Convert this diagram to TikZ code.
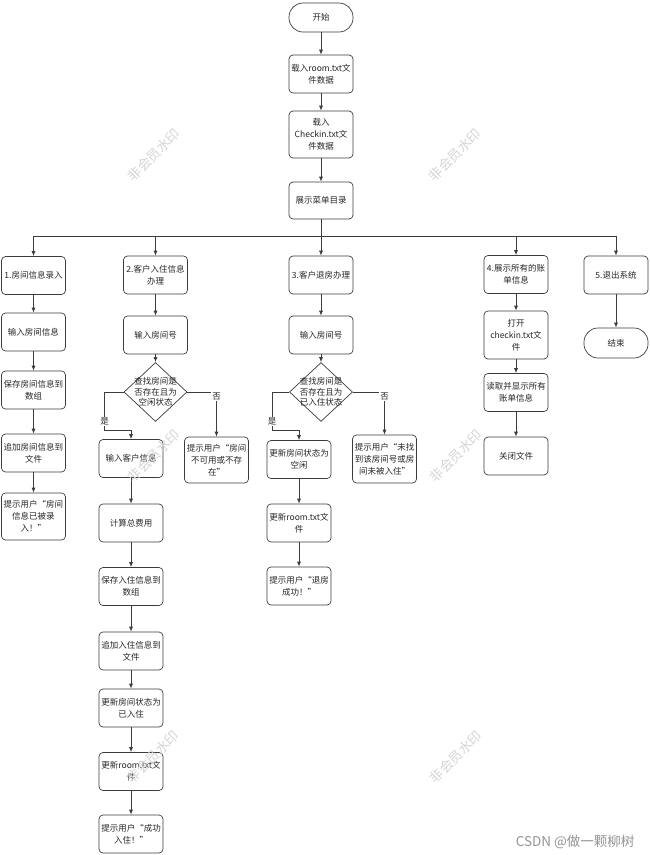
\documentclass[tikz,border=0pt]{standalone}
\usepackage{fontspec}
\newfontfamily\cjk{Noto Sans CJK SC}
\usetikzlibrary{shapes.geometric,arrows.meta,calc}
\definecolor{linegray}{HTML}{3C3C3C}
\definecolor{markgray}{HTML}{D4D4D4}

\begin{document}
\begin{tikzpicture}[x=1pt,y=-1pt,>={Latex[length=5pt,width=4pt]},
  every node/.style={font=\cjk\fontsize{8.5}{12}\selectfont,text=black!85},
  box/.style={draw=linegray,line width=0.7pt,rounded corners=4pt,align=center,
    minimum width=64pt,minimum height=38pt,inner sep=1pt},
  tallbox/.style={box,minimum height=47pt},
  ends/.style={box,rounded corners=14pt,minimum height=29pt},
  test/.style={diamond,draw=linegray,line width=0.7pt,align=center,
    minimum width=63pt,minimum height=59pt,inner sep=-6pt,
    font=\cjk\fontsize{8.5}{10.5}\selectfont},
  yn/.style={fill=white,inner sep=1pt},
  wmark/.style={rotate=45,text=markgray,font=\cjk\fontsize{13.5}{14}\selectfont},
  flow/.style={draw=linegray,line width=0.7pt}]
  \useasboundingbox (0,0) rectangle (650,855);

  % start and menu
  \node[ends] (start) at (321,17.5) {开始};
  \node[box] (load1) at (321,74) {载入room.txt文\\件数据};
  \node[tallbox] (load2) at (321,134.5) {载入\\Checkin.txt文\\件数据};
  \node[box,minimum height=37pt] (menu) at (321,200.5) {展示菜单目录};
  \coordinate (bus) at (321,236);

  % 1
  \node[box] (c1) at (33.5,275.5) {1.房间信息录入};
  \node[box] (c1a) at (33.5,332) {输入房间信息};
  \node[box] (c1b) at (33.5,390) {保存房间信息到\\数组};
  \node[box] (c1c) at (33.5,453) {追加房间信息到\\文件};
  \node[tallbox] (c1d) at (33.5,516.5) {提示用户“房间\\信息已被录\\入！”};

  % 2
  \node[box] (c2) at (155.5,275) {2.客户入住信息\\办理};
  \node[box] (c2a) at (155.5,335) {输入房间号};
  \node[test] (d2) at (155.5,392) {查找房间是\\否存在且为\\空闲状态};
  \node[box] (c2y1) at (131,458.5) {输入客户信息};
  \node[box,minimum height=46pt] (c2n) at (216.5,460) {提示用户“房间\\不可用或不存\\在”};
  \node[box] (c2y2) at (131,523) {计算总费用};
  \node[box] (c2y3) at (131,586.5) {保存入住信息到\\数组};
  \node[box] (c2y4) at (131,651) {追加入住信息到\\文件};
  \node[box] (c2y5) at (131,708) {更新房间状态为\\已入住};
  \node[box] (c2y6) at (131,771.5) {更新room.txt文\\件};
  \node[box] (c2y7) at (131,834) {提示用户“成功\\入住！”};

  % 3
  \node[box] (c3) at (321,275) {3.客户退房办理};
  \node[box] (c3a) at (321,335) {输入房间号};
  \node[test] (d3) at (321,392) {查找房间是\\否存在且为\\已入住状态};
  \node[box] (c3y1) at (299,459.5) {更新房间状态为\\空闲};
  \node[tallbox,minimum height=48pt] (c3n) at (384.5,459) {提示用户“未找\\到该房间号或房\\间未被入住”};
  \node[box] (c3y2) at (299,523) {更新room.txt文\\件};
  \node[box] (c3y3) at (299,586) {提示用户“退房\\成功！”};

  % 4 and 5
  \node[box] (c4) at (516,274.5) {4.展示所有的账\\单信息};
  \node[tallbox,minimum height=48pt] (c4a) at (516,335) {打开\\checkin.txt文\\件};
  \node[box] (c4b) at (516,392.5) {读取并显示所有\\账单信息};
  \node[box] (c4c) at (516,456) {关闭文件};
  \node[box] (c5) at (616,275) {5.退出系统};
  \node[ends,minimum height=30pt] (stop) at (616,343) {结束};

  \foreach \a/\b in {start/load1,load1/load2,load2/menu,menu/c3,
      c1/c1a,c1a/c1b,c1b/c1c,c1c/c1d,
      c2/c2a,c2a/d2,c2y1/c2y2,c2y2/c2y3,c2y3/c2y4,c2y4/c2y5,c2y5/c2y6,c2y6/c2y7,
      c3/c3a,c3a/d3,c3y1/c3y2,c3y2/c3y3,
      c4/c4a,c4a/c4b,c4b/c4c,c5/stop}
    \draw[flow,->] (\a.south) -- (\b.north);

  \draw[flow] (bus -| c1.north) -- (bus -| c5.north);
  \foreach \n in {c1,c2,c4,c5}
    \draw[flow,->] (bus -| \n.north) -- (\n.north);

  % branches
  \draw[flow,->] (d2.west) -- ++(-19,0) -- node[yn,pos=0.78]{是} ++(0,38) -| (c2y1.north);
  \draw[flow,->] (d2.east) -| node[yn,pos=0.55]{否} (c2n.north);
  \draw[flow,->] (d3.west) -- ++(-17,0) -- node[yn,pos=0.78]{是} ++(0,38) -| (c3y1.north);
  \draw[flow,->] (d3.east) -| node[yn,pos=0.55]{否} (c3n.north);

  % watermarks
  \foreach \wx/\wy [count=\i] in {154/155,455/155,154/456,456/456,153/757,456/757}
    \node[wmark] (wm\i) at (\wx,\wy) {非会员水印};
  \node[anchor=east,text=gray!85,font=\cjk\fontsize{13.5}{14}\selectfont] (csdn) at (638,842) {CSDN @做一颗柳树};
\end{tikzpicture}
\end{document}
